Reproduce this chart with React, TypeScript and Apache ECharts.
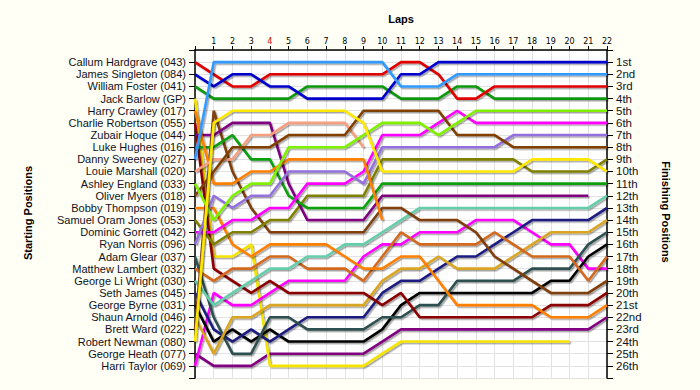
import React, { useEffect, useRef } from "react";
import * as echarts from "echarts";

const drivers = [
  "Callum Hardgrave (043)", "James Singleton (084)", "William Foster (041)", "Jack Barlow (GP)",
  "Harry Crawley (017)", "Charlie Robertson (055)", "Zubair Hoque (044)", "Luke Hughes (016)",
  "Danny Sweeney (027)", "Louie Marshall (020)", "Ashley England (033)", "Oliver Myers (018)",
  "Bobby Thompson (019)", "Samuel Oram Jones (053)", "Dominic Gorrett (042)", "Ryan Norris (096)",
  "Adam Glear (037)", "Matthew Lambert (032)", "George Li Wright (030)", "Seth James (045)",
  "George Byrne (031)", "Shaun Arnold (046)", "Brett Ward (022)", "Robert Newman (080)",
  "George Heath (077)", "Harri Taylor (069)",
];

const finishLabels = [
  "1st", "2nd", "3rd", "4th", "5th", "6th", "7th", "8th", "9th", "10th", "11th", "12th", "13th",
  "14th", "15th", "16th", "17th", "18th", "19th", "20th", "21st", "22nd", "23rd", "24th", "25th", "26th",
];

const lapLabels = ["", "1", "2", "3", "4", "5", "6", "7", "8", "9", "10", "11", "12", "13", "14", "15", "16", "17", "18", "19", "20", "21", "22"];

// positions per lap (lap 0 = start), null = retired
const red = [1, 2, 3, 3, 2, 2, 2, 2, 2, 2, 2, 1, 1, 2, 4, 4, 3, 3, 3, 3, 3, 3, 3];
const blue = [2, 3, 2, 2, 3, 3, 4, 4, 4, 4, 4, 2, 2, 1, 1, 1, 1, 1, 1, 1, 1, 1, 1];
const green = [3, 4, 4, 4, 4, 4, 3, 3, 3, 3, 3, 4, 4, 4, 3, 3, 4, 4, 4, 4, 4, 4, 4];
const yellowB = [4, 17, 17, 16, 26, 26, 26, 26, 26, 26, 25, 24, 24, 24, 24, 24, 24, 24, 24, 24, 24, null, null];
const orangeA = [5, 11, 11, 10, 10, 9, 9, 9, 9, 9, 14, null, null, null, null, null, null, null, null, null, null, null, null];
const darkRed = [6, 18, 19, 20, 19, 20, 20, 20, 20, 20, 21, 20, 22, 22, 22, 22, 22, 22, 22, 21, 21, 21, 20];
const purpleA = [7, 7, 6, 6, 6, 11, 14, 14, 14, 14, 12, 12, 12, 12, 12, 12, 12, 12, 12, 12, 12, 12, null];
const greenB = [8, 8, 7, 9, 9, 12, 13, 13, 13, 13, 11, 11, 11, 11, 11, 11, 11, 11, 11, 11, 11, 11, 11];
const lightBlue = [9, 1, 1, 1, 1, 1, 1, 1, 1, 1, 1, 3, 3, 3, 2, 2, 2, 2, 2, 2, 2, 2, 2];
const salmon = [10, 9, 9, 7, 7, 6, 6, 6, 6, 8, null, null, null, null, null, null, null, null, null, null, null, null, null];
const lightGreen = [11, 14, 12, 11, 11, 8, 8, 8, 8, 7, 6, 6, 6, 7, 6, 5, 5, 5, 5, 5, 5, 5, 5];
const brownA = [12, 10, 8, 8, 8, 7, 7, 7, 7, 5, 5, 5, 5, 5, 7, 7, 7, 8, 8, 8, 8, 8, 8];
const orangeB = [13, 13, 16, 17, 16, 16, 16, 16, 17, 18, 18, 17, 17, 19, 21, 21, 21, 21, 21, 22, 22, 22, 21];
const olive = [14, 16, 15, 15, 14, 14, 12, 12, 12, 12, 9, 9, 9, 9, 9, 9, 9, 9, 10, 10, 10, 10, 9];
const magentaA = [15, 15, 14, 14, 13, 13, 11, 11, 11, 10, 7, 7, 7, 6, 5, 6, 6, 6, 6, 6, 6, 6, 6];
const mediumPurple = [16, 12, 13, 12, 12, 10, 10, 10, 10, 11, 8, 8, 8, 8, 8, 8, 8, 7, 7, 7, 7, 7, 7];
const slateGray = [17, 22, 25, 25, 22, 22, 23, 23, 23, 23, 22, 22, 21, 21, 19, 19, 19, 19, 18, 18, 18, 16, 15];
const chocolate = [18, 19, 18, 18, 17, 17, 18, 18, 18, 19, 17, 15, 16, 16, 16, 16, 15, 16, 17, 17, 17, 19, 17];
const teal = [19, 21, 20, 19, 18, 18, 17, 17, 16, 16, 15, 14, 13, 13, 13, 13, 13, 13, 13, 13, 13, 13, 12];
const navy = [20, 23, 24, 23, 24, 23, 22, 22, 22, 22, 20, 19, 19, 18, 17, 17, 16, 15, 14, 14, 14, 14, 13];
const black = [21, 24, 23, 24, 23, 24, 24, 24, 24, 24, 23, 21, 20, 20, 20, 20, 20, 20, 20, 19, 19, 17, 16];
const goldenrod = [22, 25, 22, 22, 21, 21, 21, 21, 21, 21, 19, 18, 18, 17, 18, 18, 18, 17, 16, 15, 15, 15, 14];
const brownB = [23, 5, 10, 13, 15, 15, 15, 15, 15, 15, 13, 13, 14, 14, 14, 15, 17, 18, 19, 20, 20, 20, 19];
const yellowA = [24, 6, 5, 5, 5, 5, 5, 5, 5, 6, 10, 10, 10, 10, 10, 10, 10, 10, 9, 9, 9, 9, 10];
const purpleB = [25, 26, 26, 26, 25, 25, 25, 25, 25, 25, 24, 23, 23, 23, 23, 23, 23, 23, 23, 23, 23, 23, 22];
const magentaB = [26, 20, 21, 21, 20, 19, 19, 19, 19, 17, 16, 16, 15, 15, 15, 14, 14, 14, 15, 16, 16, 18, 18];

const lines: [(number | null)[], string][] = [
  [purpleB, "#800080"], [yellowB, "#F5E400"], [magentaB, "#FF00FF"], [black, "#000000"],
  [navy, "#1E1E80"], [slateGray, "#2F4F4F"], [goldenrod, "#DAA520"], [darkRed, "#8B0000"],
  [chocolate, "#D2691E"], [teal, "#66CDAA"], [orangeB, "#FF8000"], [brownB, "#7F3F10"],
  [olive, "#808000"], [purpleA, "#800080"], [greenB, "#10A010"], [magentaA, "#FF00FF"],
  [mediumPurple, "#9370DB"], [orangeA, "#FF8000"], [salmon, "#F4A080"], [brownA, "#804000"],
  [lightGreen, "#80F000"], [yellowA, "#FFE800"], [green, "#109810"], [red, "#E00000"],
  [blue, "#0000CC"], [lightBlue, "#3399FF"],
];

export default function App() {
  const ref = useRef<HTMLDivElement>(null);
  useEffect(() => {
    if (!ref.current) return;
    const chart = echarts.init(ref.current, null, { renderer: "svg" });
    const labelFont = "Liberation Sans, Arial, sans-serif";
    const yBase = {
      type: "value" as const,
      min: 0,
      max: 27,
      interval: 1,
      inverse: true,
      axisLine: { show: true, lineStyle: { color: "#000", width: 1.5 } },
      axisTick: { show: true, length: 6, lineStyle: { color: "#000" } },
      splitLine: { show: true, lineStyle: { color: "#E2E2E2", width: 1 } },
    };
    chart.setOption({
      animation: false,
      backgroundColor: "#FFFFF5",
      grid: { left: 195, right: 93, top: 50, bottom: 12, show: true, backgroundColor: "#FFFFFF", borderWidth: 0 },
      xAxis: {
        type: "value",
        position: "top",
        min: 0,
        max: 22,
        interval: 1,
        axisLine: { show: true, onZero: false, lineStyle: { color: "#000", width: 1.5 } },
        axisTick: { show: true, length: 4, lineStyle: { color: "#000" } },
        splitLine: { show: true, lineStyle: { color: "#E2E2E2", width: 1 } },
        axisLabel: {
          margin: 5,
          fontSize: 8,
          fontFamily: "DejaVu Sans, sans-serif",
          color: "#000",
          formatter: (v: number) => (v === 4 ? "{r|" + lapLabels[v] + "}" : lapLabels[v] ?? ""),
          rich: { r: { color: "#E00000", fontSize: 8, fontFamily: "DejaVu Sans, sans-serif" } },
        },
      },
      yAxis: [
        {
          ...yBase,
          position: "left",
          axisLabel: {
            margin: 9,
            fontSize: 11,
            fontFamily: labelFont,
            color: "#111122",
            formatter: (v: number) => drivers[v - 1] ?? "",
          },
        },
        {
          ...yBase,
          position: "right",
          splitLine: { show: false },
          axisLabel: {
            margin: 9,
            fontSize: 11.5,
            fontFamily: labelFont,
            color: "#111122",
            formatter: (v: number) => finishLabels[v - 1] ?? "",
          },
        },
      ],
      graphic: [
        { type: "text", x: 401, y: 19, style: { text: "Laps", font: "bold 11px " + labelFont, fill: "#000", textAlign: "center", textVerticalAlign: "middle" } },
        { type: "text", x: 28, y: 213, rotation: Math.PI / 2, style: { text: "Starting Positions", font: "bold 11px " + labelFont, fill: "#000", textAlign: "center", textVerticalAlign: "middle" } },
        { type: "text", x: 666, y: 212, rotation: -Math.PI / 2, style: { text: "Finishing Positions", font: "bold 11px " + labelFont, fill: "#000", textAlign: "center", textVerticalAlign: "middle" } },
      ],
      series: lines.map(([pos, color], i) => ({
        type: "line",
        name: "s" + i,
        silent: true,
        symbol: "none",
        showSymbol: false,
        data: pos.map((p, lap) => (p == null ? null : [lap, p])).filter((d) => d != null),
        lineStyle: {
          color,
          width: 2.6,
          shadowColor: "rgba(0,0,0,0.35)",
          shadowBlur: 1,
          shadowOffsetX: 1.5,
          shadowOffsetY: 1.5,
        },
        emphasis: { disabled: true },
        z: 2 + i * 0.01,
      })),
    });
    return () => chart.dispose();
  }, []);
  return (
    <div
      ref={ref}
      style={{ position: "absolute", left: 0, top: 0, width: 700, height: 390 }}
    />
  );
}
